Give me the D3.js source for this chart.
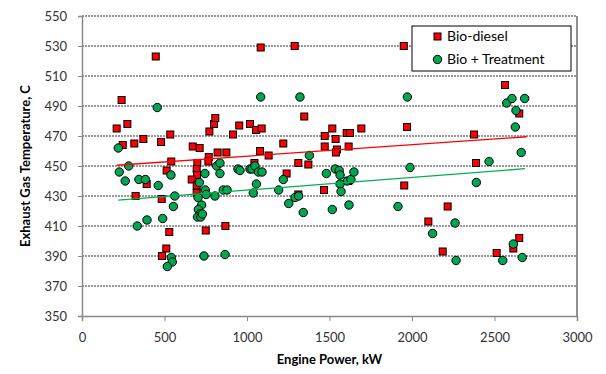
<!DOCTYPE html>
<html>
<head>
<meta charset="utf-8">
<script src="https://cdn.jsdelivr.net/npm/d3@7"></script>
<style>
  body { margin: 0; background: #fff; }
  svg { display: block; font-family: Lato, "Open Sans", sans-serif; }
</style>
</head>
<body>
<svg id="chart" width="606" height="374"></svg>
<script>
// Bio-diesel readings [power kW, exhaust temp C]
const bioDiesel = [
  [447,523],[240,494],[210,475],[275,478],[247,464],[317,465],[372,468],[479,466],[535,471],
  [671,463],[713,462],[772,473],[800,478],[808,482],[768,456],[822,459],[875,459],[915,471],
  [953,477],[1018,478],[541,453],[699,452],[513,447],[766,453],[695,448],[697,444],[392,438],
  [325,430],[483,428],[665,441],[695,437],[695,432],[529,406],[750,407],[869,410],[511,395],
  [485,390],[1083,529],[1289,530],[1950,530],[1347,483],[1055,474],[1089,475],[1517,475],
  [1471,470],[1537,468],[1604,472],[1624,472],[1693,475],[1970,476],[1220,465],[1079,460],
  [1131,457],[1471,463],[1545,461],[1539,459],[1616,463],[1311,452],[1372,451],[1045,452],
  [1240,445],[1311,431],[1467,434],[1614,440],[1953,437],[2564,504],[2650,485],[2376,471],
  [2388,452],[2216,423],[2099,413],[2186,393],[2513,392],[2614,395],[2650,402]
];

// Bio + Treatment readings
const bioTreatment = [
  [456,489],[220,462],[283,450],[816,450],[836,452],[945,448],[226,446],[262,440],[345,441],
  [384,441],[462,437],[539,444],[562,430],[554,423],[394,414],[335,410],[489,415],[541,389],
  [547,386],[517,383],[745,445],[836,445],[1018,448],[711,439],[747,434],[752,431],[703,429],
  [725,424],[705,421],[715,418],[700,416],[720,416],[730,418],[806,430],[856,434],[879,434],
  [739,390],[867,391],[1083,496],[1321,496],[1972,496],[1378,457],[958,447],[1030,448],
  [1048,450],[1069,446],[1091,446],[1057,438],[1038,432],[1220,441],[1192,434],[1291,429],
  [1313,430],[1253,425],[1341,419],[1481,445],[1535,448],[1559,447],[1564,444],[1564,438],
  [1570,433],[1608,440],[1630,441],[1648,446],[1517,421],[1618,424],[1915,423],[1988,449],
  [2574,492],[2606,495],[2683,495],[2630,487],[2626,476],[2662,459],[2467,453],[2390,439],
  [2261,412],[2125,405],[2267,387],[2550,387],[2614,398],[2668,389]
];

// linear trend lines (start, end)
const dieselTrend = [[210, 450.5], [2695, 469.5]];
const treatmentTrend = [[220, 427.3], [2685, 448.2]];

const xTicks = [0, 500, 1000, 1500, 2000, 2500, 3000];
const yTicks = [350, 370, 390, 410, 430, 450, 470, 490, 510, 530, 550];
const seriesNames = ["Bio-diesel", "Bio + Treatment"];

const margin = {left: 82, right: 29, top: 16, bottom: 58};
const W = 606, H = 374;
const svg = d3.select("#chart");

const x = d3.scaleLinear().domain([0, 3000]).range([margin.left, W - margin.right]);
const y = d3.scaleLinear().domain([350, 550]).range([H - margin.bottom, margin.top]);

// gridlines
svg.append("g")
  .selectAll("line")
  .data(yTicks.slice(1))
  .join("line")
  .attr("x1", x(0)).attr("x2", x(3000))
  .attr("y1", d => y(d)).attr("y2", d => y(d))
  .attr("stroke", "#333")
  .attr("stroke-dasharray", "2,1")
  .attr("stroke-width", 1);

// right border
svg.append("line")
  .attr("x1", x(3000)).attr("x2", x(3000))
  .attr("y1", y(550)).attr("y2", y(350))
  .attr("stroke", "#222");

// axes
const yAxis = svg.append("g")
  .attr("transform", `translate(${x(0)},0)`)
  .call(d3.axisLeft(y).tickValues(yTicks).tickSize(4).tickPadding(11));
const xAxis = svg.append("g")
  .attr("transform", `translate(0,${y(350)})`)
  .call(d3.axisBottom(x).tickValues(xTicks).tickSize(5).tickPadding(12).tickFormat(d3.format("d")));

[xAxis, yAxis].forEach(g => {
  g.select(".domain").attr("stroke", "#888").attr("stroke-width", 1.5);
  g.selectAll(".tick line").attr("stroke", "#888");
  g.selectAll(".tick text").attr("fill", "#333").style("font-size", "13px")
    .style("font-family", "Lato, 'Open Sans', sans-serif");
});

const line = d3.line().x(d => x(d[0])).y(d => y(d[1]));

// markers
svg.append("g")
  .selectAll("rect")
  .data(bioDiesel)
  .join("rect")
  .attr("x", d => x(d[0]) - 3.5)
  .attr("y", d => y(d[1]) - 3.5)
  .attr("width", 7).attr("height", 7)
  .attr("fill", "#ff0000")
  .attr("stroke", "#000")
  .attr("stroke-width", 1);

svg.append("g")
  .selectAll("circle")
  .data(bioTreatment)
  .join("circle")
  .attr("cx", d => x(d[0]))
  .attr("cy", d => y(d[1]))
  .attr("r", 4.2)
  .attr("fill", "#00a651")
  .attr("stroke", "#000")
  .attr("stroke-width", 1);

svg.append("path").attr("d", line(dieselTrend))
  .attr("stroke", "#ff0000").attr("stroke-width", 1.3).attr("fill", "none");
svg.append("path").attr("d", line(treatmentTrend))
  .attr("stroke", "#00b050").attr("stroke-width", 1.3).attr("fill", "none");

// axis titles
svg.append("text")
  .attr("x", x(1500)).attr("y", 364)
  .attr("text-anchor", "middle")
  .style("font-size", "13px").style("font-weight", "bold")
  .text("Engine Power, kW");

svg.append("text")
  .attr("transform", `translate(30,${(y(350) + y(550)) / 2}) rotate(-90)`)
  .attr("text-anchor", "middle")
  .style("font-size", "13px").style("font-weight", "bold")
  .text("Exhaust Gas Temperature, C");

// legend
const legend = svg.append("g").attr("transform", "translate(412,26)");
legend.append("rect").attr("width", 159).attr("height", 45)
  .attr("fill", "#fff").attr("stroke", "#000");
legend.append("rect").attr("x", 22).attr("y", 7).attr("width", 7).attr("height", 7)
  .attr("fill", "#ff0000").attr("stroke", "#000");
legend.append("circle").attr("cx", 25.5).attr("cy", 33.5).attr("r", 4.2)
  .attr("fill", "#00a651").attr("stroke", "#000");
legend.selectAll("text.lbl")
  .data(seriesNames)
  .join("text")
  .attr("class", "lbl")
  .attr("x", 35).attr("y", (d, i) => 15 + i * 23)
  .style("font-size", "14px")
  .text(d => d);
</script>
</body>
</html>
